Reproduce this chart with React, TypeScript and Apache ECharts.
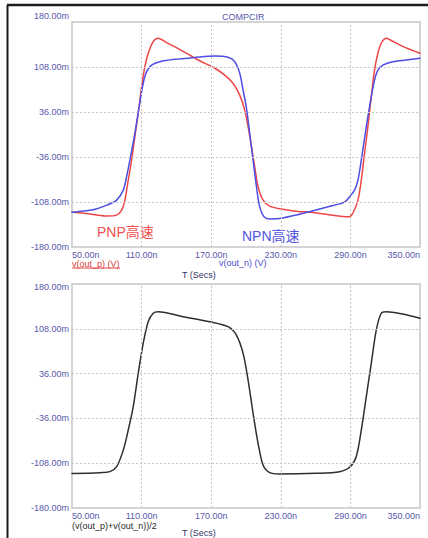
import React, { useEffect, useRef } from "react";
import * as echarts from "echarts";

// Transient simulation: time in ns, voltage in mV
const timeP = [50, 60, 70, 80, 88.5, 92.8, 95.6, 98.5, 101.4, 104.2, 107.1, 110, 112.8, 115.7, 120, 124.3, 131.5, 140, 150, 160, 173.1, 181.7, 188.8, 194.6, 198.9, 201.8, 204.7, 207.5, 210.4, 214.7, 220.4, 230.5, 246.3, 254, 270, 285.6, 289, 292.1, 296.5, 299.4, 302.2, 305.1, 308, 310.8, 313.7, 316.6, 320.9, 323.7, 335, 350];
const outP = [-124.5, -126, -128.5, -130.4, -129, -121, -105, -73, -41, -3.5, 34, 76.5, 108.5, 130, 148.5, 154, 147, 139, 128.5, 118, 106, 95, 82, 63, 39, 12.5, -19.5, -51.5, -83.5, -105, -114.5, -119.2, -123.5, -124, -128, -131.5, -131.5, -126, -105, -73, -30, 12.5, 60.5, 103, 130, 146, 154, 152, 141, 130];

const timeN = [50, 60, 70, 80, 88.5, 94.2, 97.1, 99.9, 104.2, 107.9, 111.4, 114.3, 118.6, 125.7, 138.7, 155, 173.1, 184.5, 190.3, 194.6, 197.5, 200.4, 203.2, 206.1, 209, 211.8, 215.5, 220.4, 230.5, 246.3, 254, 270, 280.7, 285.6, 289.3, 293.6, 296.5, 299.4, 303.7, 308, 310.8, 313.7, 318, 326.6, 338.1, 350];
const outN = [-124.5, -122.5, -119.5, -113, -105, -89, -67.5, -41, 2, 44.5, 82, 100.5, 111, 116.5, 120.3, 123, 125.5, 123.5, 116.5, 98, 71, 42, 2, -41, -83.5, -115.5, -131.5, -135, -134, -127.5, -124, -116, -111, -107.5, -99.5, -89, -73, -41, 12.5, 60.5, 87, 103, 111, 116.5, 119.2, 122];

const timeAvg = [50, 74.1, 82.7, 88.5, 94.2, 98.5, 102.8, 107.1, 111.4, 115.7, 120, 124.3, 145.8, 168.8, 184.5, 191.7, 197.5, 201.8, 206.1, 210.4, 214.7, 220.4, 229, 260.6, 280.7, 289.3, 295, 299.4, 303.7, 308, 312.3, 316.6, 320.9, 350];
const outAvg = [-124.5, -123.2, -121.6, -113.6, -87, -54.6, -17, 36.5, 84.7, 119.4, 133, 135.5, 127.5, 119.4, 111.4, 98, 68.6, 25.7, -27.8, -76, -111, -123.2, -125.3, -124.2, -121.6, -114.6, -97.5, -54.6, -1, 52.6, 106, 133, 135.5, 125];

const xLabelTicks = [50, 110, 170, 230, 290, 350];
const yLabelTicks = [-180, -108, -36, 36, 108, 180];
const xGridTicks = [110, 170, 230, 290];
const yGridTicks = [-108, -36, 36, 108];

const FONT = "'Liberation Sans', Arial, 'Noto Sans CJK SC', sans-serif";
const LABEL_COLOR = "#5757ad";
const GRID_COLOR = "#c6c6c6";
const RED = "#ee4646";
const BLUE = "#4e4ee2";

const pairs = (t: number[], v: number[]) => t.map((x, i) => [x, v[i]]);

function xAxisFor(gridIndex: number) {
  return {
    type: "value",
    gridIndex,
    min: 50,
    max: 350,
    interval: 10,
    axisLine: { show: false },
    axisTick: { show: false },
    splitLine: { show: false },
    axisLabel: {
      color: LABEL_COLOR,
      fontSize: 9,
      fontFamily: FONT,
      margin: 3,
      showMinLabel: true,
      showMaxLabel: true,
      alignMinLabel: "left",
      alignMaxLabel: "right",
      formatter: (v: number) => {
        const r = Math.round(v);
        return xLabelTicks.includes(r) ? r.toFixed(2) + "n" : "";
      },
    },
  };
}

function yAxisFor(gridIndex: number, topPad: number[]) {
  return {
    type: "value",
    gridIndex,
    min: -180,
    max: 180,
    interval: 36,
    axisLine: { show: false },
    axisTick: { show: false },
    splitLine: { show: false },
    axisLabel: {
      color: LABEL_COLOR,
      fontSize: 9,
      fontFamily: FONT,
      margin: 3,
      showMinLabel: true,
      showMaxLabel: true,
      formatter: (v: number) => {
        const r = Math.round(v);
        if (!yLabelTicks.includes(r)) return "";
        const s = r.toFixed(2) + "m";
        return r === 180 ? "{top|" + s + "}" : s;
      },
      rich: {
        top: { color: LABEL_COLOR, fontSize: 9, fontFamily: FONT, padding: topPad },
      },
    },
  };
}

function gridLines(index: number) {
  return {
    type: "line",
    xAxisIndex: index,
    yAxisIndex: index,
    data: [],
    z: 1,
    silent: true,
    markLine: {
      silent: true,
      symbol: ["none", "none"],
      label: { show: false },
      lineStyle: { color: GRID_COLOR, type: [2, 2], width: 1 },
      emphasis: { disabled: true },
      data: [
        ...xGridTicks.map((v) => ({ xAxis: v })),
        ...yGridTicks.map((v) => ({ yAxis: v })),
      ],
    },
  };
}

function curve(index: number, data: number[][], color: string, name: string) {
  return {
    name,
    type: "line",
    xAxisIndex: index,
    yAxisIndex: index,
    data,
    z: 3,
    symbol: "none",
    showSymbol: false,
    smooth: 0.3,
    lineStyle: { color, width: 1.5, join: "round", cap: "round" },
    emphasis: { disabled: true },
  };
}

function text(t: string, x: number, y: number, fill: string, fontSize = 9, align = "left") {
  return {
    type: "text",
    silent: true,
    style: {
      text: t,
      x,
      y,
      fill,
      fontSize,
      fontFamily: FONT,
      textAlign: align,
      textVerticalAlign: "middle",
      verticalAlign: "middle",
    },
  };
}

export default function App() {
  const ref = useRef<HTMLDivElement>(null);

  useEffect(() => {
    if (!ref.current) return;
    const chart = echarts.init(ref.current, undefined, { renderer: "svg" });
    chart.setOption({
      animation: false,
      backgroundColor: "#ffffff",
      grid: [
        { left: 72, top: 22, width: 348, height: 225, show: true, borderColor: GRID_COLOR, borderWidth: 1.5, backgroundColor: "transparent" },
        { left: 72, top: 284, width: 348, height: 224, show: true, borderColor: GRID_COLOR, borderWidth: 1.5, backgroundColor: "transparent" },
      ],
      xAxis: [xAxisFor(0), xAxisFor(1)],
      yAxis: [yAxisFor(0, [0, 0, 12, 0]), yAxisFor(1, [6, 0, 0, 0])],
      series: [
        gridLines(0),
        gridLines(1),
        curve(0, pairs(timeP, outP), RED, "v(out_p)"),
        curve(0, pairs(timeN, outN), BLUE, "v(out_n)"),
        curve(1, pairs(timeAvg, outAvg), "#2e2e2e", "(v(out_p)+v(out_n))/2"),
      ],
      graphic: [
        { type: "line", silent: true, shape: { x1: 7, y1: 5, x2: 428, y2: 5 }, style: { stroke: "#1c1c1c", lineWidth: 2.5 } },
        { type: "line", silent: true, shape: { x1: 7.5, y1: 5, x2: 7.5, y2: 538 }, style: { stroke: "#1c1c1c", lineWidth: 2 } },
        text("COMPCIR", 222, 17, LABEL_COLOR, 9),
        text("PNP高速", 97, 232, "#f05050", 14),
        text("NPN高速", 242, 235.5, "#5252e0", 14),
        text("v(out_p) (V)", 72, 264, "#e03c3c", 9),
        { type: "line", silent: true, shape: { x1: 72, y1: 268, x2: 120, y2: 268 }, style: { stroke: "#e03c3c", lineWidth: 1 } },
        text("v(out_n) (V)", 219, 263, "#4a4acc", 9),
        text("T (Secs)", 182, 274.5, "#333366", 9),
        text("(v(out_p)+v(out_n))/2", 72, 526, "#2a2a2a", 9),
        text("T (Secs)", 182, 532.5, "#333366", 9),
      ],
    });
    return () => chart.dispose();
  }, []);

  return (
    <div
      ref={ref}
      style={{ position: "absolute", left: 0, top: 0, width: 428, height: 538 }}
    />
  );
}
